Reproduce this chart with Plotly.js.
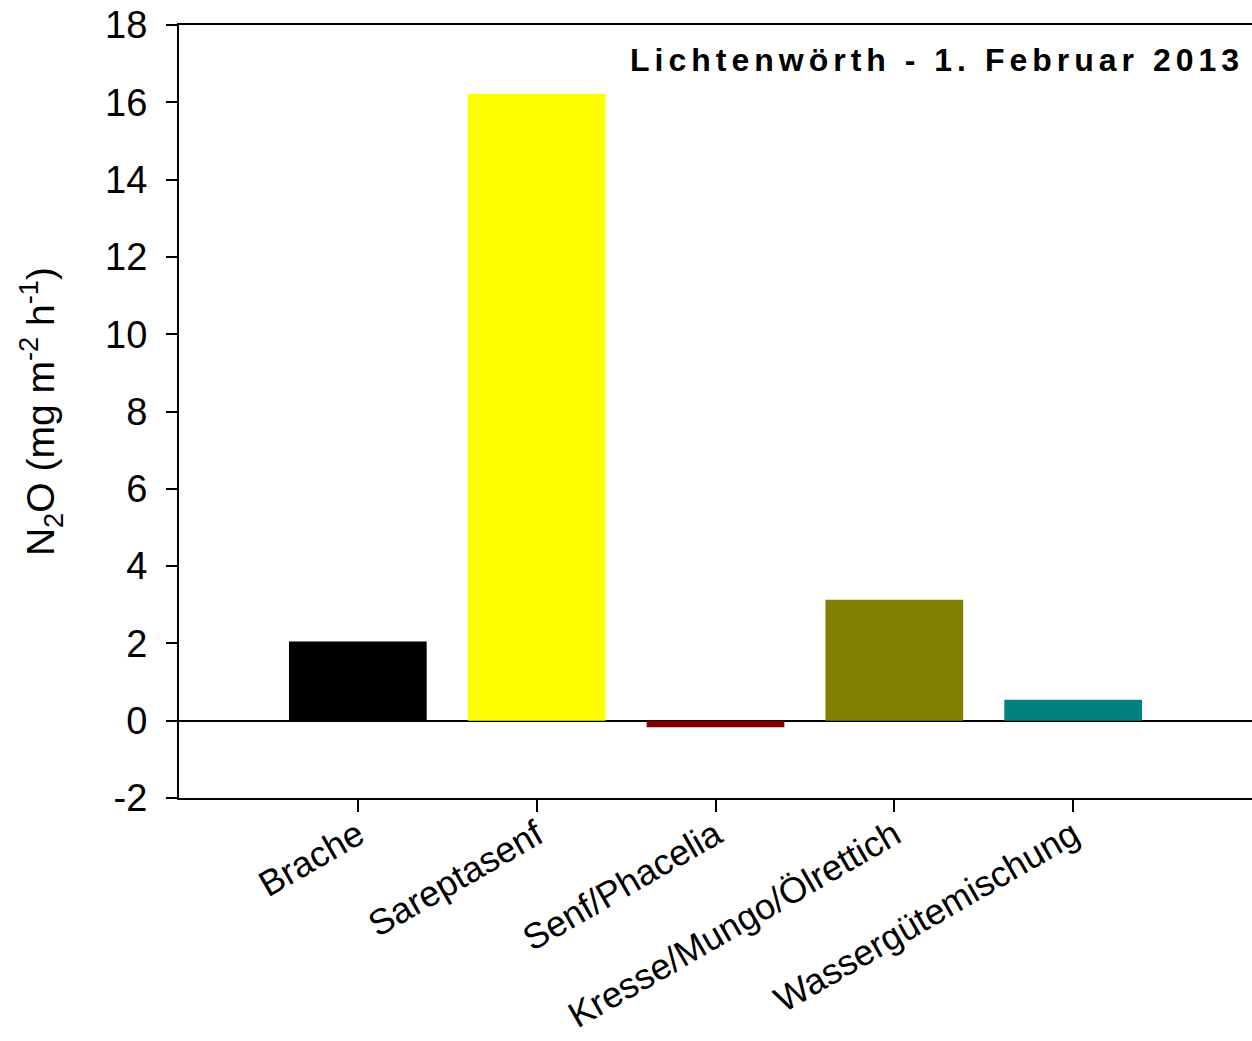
<!DOCTYPE html>
<html>
<head>
<meta charset="utf-8">
<script src="https://cdn.plot.ly/plotly-3.0.1.min.js"></script>
<style>html,body{margin:0;padding:0;background:#fff;}</style>
</head>
<body>
<div id="chart" style="width:1252px;height:1041px;"></div>
<script>
const categories = ["Brache", "Sareptasenf", "Senf/Phacelia", "Kresse/Mungo/Ölrettich", "Wassergütemischung"];
const n2oValues = [2.05, 16.22, -0.17, 3.13, 0.54];
const barColors = ["#000000", "#FFFF00", "#800000", "#808000", "#008080"];
const yTickValues = [-2, 0, 2, 4, 6, 8, 10, 12, 14, 16, 18];
const yTickLabels = ["-2", "0", "2", "4", "6", "8", "10", "12", "14", "16", "18"];
const chartTitle = "Lichtenwörth - 1. Februar 2013";
const yTitle = "N<sub>2</sub>O (mg m<sup>-2</sup> h<sup>-1</sup>)";

const font = "Arial, 'Liberation Sans', sans-serif";

const trace = {
  type: "bar",
  x: categories,
  y: n2oValues,
  width: 0.77,
  marker: { color: barColors, line: { width: 0 } },
  hoverinfo: "none"
};

const layout = {
  width: 1252,
  height: 1041,
  margin: { l: 179, r: 0, t: 25, b: 243, pad: 0 },
  paper_bgcolor: "#ffffff",
  plot_bgcolor: "#ffffff",
  showlegend: false,
  font: { family: font, color: "#000000" },
  xaxis: {
    type: "category",
    range: [-1, 5],
    showline: true,
    linecolor: "#000000",
    linewidth: 2,
    mirror: true,
    ticks: "outside",
    ticklen: 12,
    tickwidth: 2,
    tickcolor: "#000000",
    tickangle: -30,
    ticklabelstandoff: -12,
    tickfont: { family: font, size: 36, color: "#000000" },
    showgrid: false,
    zeroline: false
  },
  yaxis: {
    range: [-2, 18],
    tickvals: yTickValues,
    ticktext: yTickLabels,
    showline: true,
    linecolor: "#000000",
    linewidth: 2,
    ticks: "outside",
    ticklen: 11,
    tickwidth: 2,
    tickcolor: "#000000",
    ticklabelstandoff: 11,
    tickfont: { family: font, size: 38, color: "#000000" },
    showgrid: false,
    zeroline: true,
    zerolinecolor: "#000000",
    zerolinewidth: 2,
    title: { text: yTitle, font: { family: font, size: 39, color: "#000000" }, standoff: 38 }
  },
  annotations: [{
    text: "<b>" + chartTitle + "</b>",
    xref: "paper", yref: "paper",
    x: 0.706, y: 0.955,
    xanchor: "center", yanchor: "middle",
    showarrow: false,
    font: { family: font, size: 32, color: "#000000" }
  }]
};

Plotly.newPlot("chart", [trace], layout, { displayModeBar: false, staticPlot: true }).then(function () {
  document.querySelectorAll(".annotation-text").forEach(function (t) {
    t.style.letterSpacing = "5px";
  });
});
</script>
</body>
</html>
